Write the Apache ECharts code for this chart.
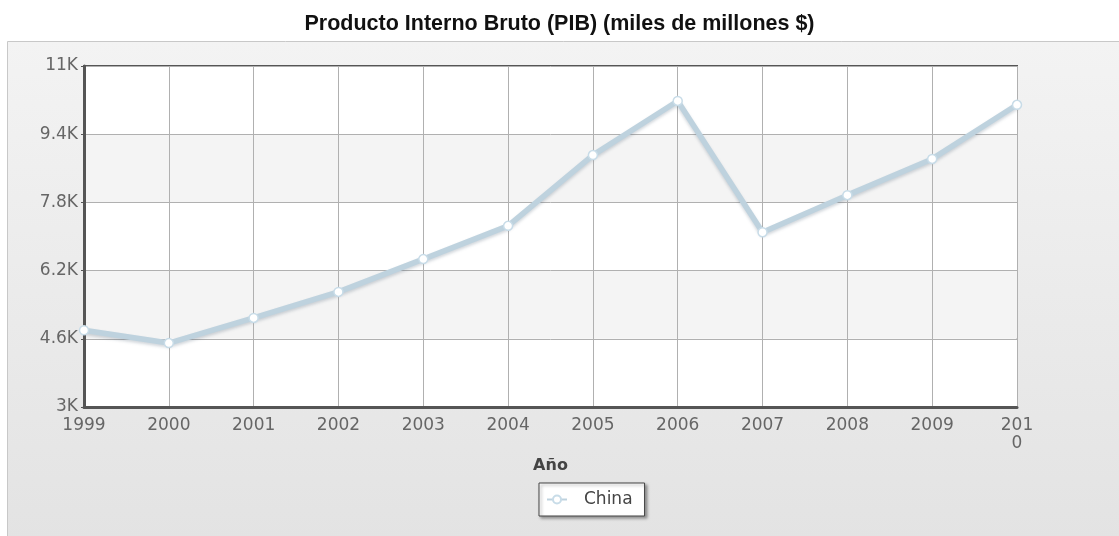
<!DOCTYPE html>
<html>
<head>
<meta charset="utf-8">
<script src="https://cdn.jsdelivr.net/npm/echarts@6/dist/echarts.min.js"></script>
<style>html,body{margin:0;padding:0;background:#fff}#c{width:1119px;height:536px}</style>
</head>
<body>
<div id="c"></div>
<script>
const titleText = 'Producto Interno Bruto (PIB) (miles de millones $)';
const xAxisName = 'Año';
const seriesName = 'China';
const years = ['1999','2000','2001','2002','2003','2004','2005','2006','2007','2008','2009','2010'];
const gdpValues = [4800, 4500, 5090, 5700, 6470, 7250, 8910, 10180, 7100, 7970, 8820, 10090];
const yTicks = [3000, 4600, 6200, 7800, 9400, 11000];

const chart = echarts.init(document.getElementById('c'));
const font = 'DejaVu Sans';
chart.setOption({
  backgroundColor: '#fff',
  animation: false,
  title: {
    text: titleText, left: 'center', top: 8,
    textStyle: { fontFamily: 'Liberation Sans', fontSize: 21.5, fontWeight: 'bold', color: '#111' }
  },
  graphic: [{
    type: 'rect', z: -10, silent: true,
    shape: { x: 7.5, y: 41.5, width: 1120, height: 500 },
    style: {
      fill: new echarts.graphic.LinearGradient(0, 0, 0, 1, [
        { offset: 0, color: '#f3f3f3' }, { offset: 1, color: '#e3e3e3' }
      ]),
      stroke: '#c8c8c8', lineWidth: 1
    }
  }],
  grid: {
    left: 84, right: 102, top: 66, bottom: 129,
    show: true, backgroundColor: '#fff', borderColor: '#555', borderWidth: 2
  },
  legend: {
    data: [seriesName], left: 539, top: 483,
    padding: [7, 12, 7, 7], itemWidth: 20, itemHeight: 10, itemGap: 6,
    backgroundColor: '#fff', borderColor: '#444', borderWidth: 1,
    shadowColor: 'rgba(0,0,0,0.35)', shadowBlur: 3, shadowOffsetX: 2, shadowOffsetY: 2,
    textStyle: { fontFamily: font, fontSize: 17, color: '#444', padding: [0, 0, 0, 12], lineHeight: 19 }
  },
  xAxis: {
    type: 'category', data: years, boundaryGap: false,
    name: xAxisName, nameLocation: 'middle', nameGap: 49,
    nameTextStyle: { fontFamily: font, fontSize: 16, fontWeight: 'bold', color: '#444' },
    axisLine: { lineStyle: { color: '#555', width: 3 } },
    axisTick: { show: false },
    axisLabel: {
      interval: 0, margin: 10, fontFamily: font, fontSize: 17, color: '#666', lineHeight: 18,
      formatter: v => v === '2010' ? '201\n0' : v
    },
    splitLine: { show: true, interval: 0, lineStyle: { color: '#b0b0b0', width: 1 } }
  },
  yAxis: {
    type: 'value', min: 3000, max: 11000,
    axisLine: { show: true, lineStyle: { color: '#555', width: 3 } },
    axisTick: { show: true, customValues: yTicks, length: 3, inside: false, lineStyle: { color: '#555' } },
    axisLabel: {
      customValues: yTicks, margin: 6, fontFamily: font, fontSize: 17, color: '#666',
      formatter: v => (v / 1000) + 'K'
    },
    splitLine: { show: true, lineStyle: { color: '#b0b0b0', width: 1 } },
    splitArea: { show: true, areaStyle: { color: ['#ffffff', '#f4f4f4'] } }
  },
  series: [{
    name: seriesName, type: 'line', data: gdpValues,
    symbol: 'circle', symbolSize: 9, showAllSymbol: true,
    itemStyle: { color: '#ffffff', borderColor: '#c8dce8', borderWidth: 1.5 },
    lineStyle: { color: '#bed2de', width: 5.5, shadowColor: 'rgba(80,100,120,0.25)', shadowBlur: 3, shadowOffsetY: 2 }
  }]
});
</script>
</body>
</html>
